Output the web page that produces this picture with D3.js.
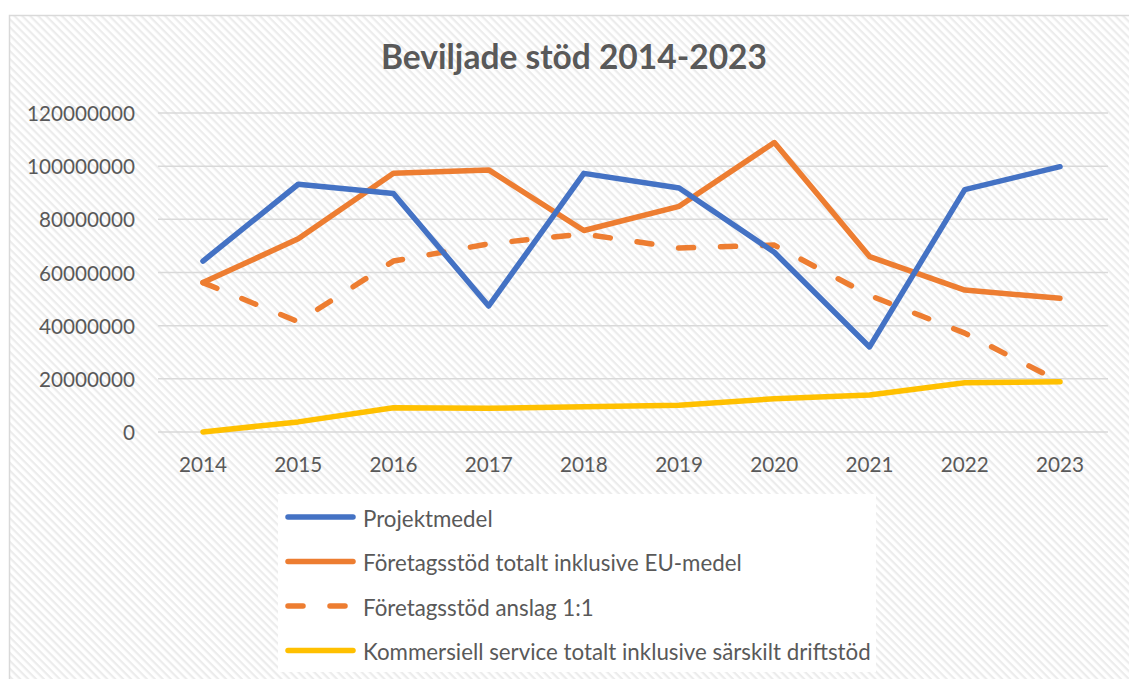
<!DOCTYPE html>
<html><head><meta charset="utf-8">
<script src="https://cdn.jsdelivr.net/npm/d3@7"></script>
<style>html,body{margin:0;padding:0;background:#fff;overflow:hidden}</style>
</head><body>
<svg id="c" width="1129" height="679"></svg>
<script>
const years = ["2014","2015","2016","2017","2018","2019","2020","2021","2022","2023"];
const projektmedel = [64.3e6, 93.2e6, 89.7e6, 47.4e6, 97.3e6, 91.8e6, 67.6e6, 32.0e6, 91.2e6, 99.8e6];
const foretagTotalt = [56.2e6, 72.7e6, 97.3e6, 98.6e6, 75.8e6, 84.9e6, 108.9e6, 66.0e6, 53.4e6, 50.3e6];
const foretagAnslag = [56.2e6, 41.5e6, 64.3e6, 70.8e6, 74.5e6, 69.2e6, 70.3e6, 51.4e6, 37.2e6, 18.9e6];
const kommersiell = [0, 3.8e6, 9.1e6, 8.9e6, 9.5e6, 10.1e6, 12.5e6, 13.9e6, 18.5e6, 18.9e6];
const yTicks = [0, 20000000, 40000000, 60000000, 80000000, 100000000, 120000000];
const seriesNames = ["Projektmedel","Företagsstöd totalt inklusive EU-medel","Företagsstöd anslag 1:1","Kommersiell service totalt inklusive särskilt driftstöd"];
const seriesColors = ["#4472C4","#ED7D31","#ED7D31","#FFC000"];
const seriesDash = [null,null,"15,27",null];
const titleText = "Beviljade stöd 2014-2023";

const FONT = "Lato, 'Open Sans', sans-serif";
const TXT = "#595959";
const svg = d3.select("#c");
const defs = svg.append("defs");
const pat = defs.append("pattern").attr("id","hatch").attr("patternUnits","userSpaceOnUse")
  .attr("width",5.6).attr("height",5.6).attr("patternTransform","rotate(45)");
pat.append("rect").attr("width",5.6).attr("height",5.6).attr("fill","#ffffff");
pat.append("rect").attr("width",5.6).attr("height",2.2).attr("fill","#ececec");

svg.append("rect").attr("width",1129).attr("height",679).attr("fill","#fff");
svg.append("rect").attr("x",9.5).attr("y",15.5).attr("width",1140).attr("height",700)
  .attr("fill","url(#hatch)").attr("stroke","#d9d9d9").attr("stroke-width",1.5);

function fit(sel, target){
  const n = sel.node();
  const w = n.getComputedTextLength();
  const fs = parseFloat(sel.attr("font-size"));
  return fs * target / w;
}

// title
const title = svg.append("text").attr("x",574).attr("y",69).attr("text-anchor","middle")
  .attr("font-family",FONT).attr("font-weight","bold").attr("font-size",30).attr("fill",TXT).text(titleText);
title.attr("font-size", fit(title,386));

const x = d3.scalePoint().domain(years).range([203,1060]);
const y = d3.scaleLinear().domain([0,120000000]).range([432,113]);

const g = svg.append("g");
g.selectAll("line.grid").data(yTicks).join("line").attr("class","grid")
  .attr("x1",158).attr("x2",1108).attr("y1",d=>y(d)).attr("y2",d=>y(d))
  .attr("stroke","#d9d9d9").attr("stroke-width",1.5);

// y labels
const yl = g.selectAll("text.yl").data(yTicks).join("text").attr("class","yl")
  .attr("x",135).attr("y",d=>y(d)).attr("text-anchor","end").attr("dominant-baseline","central")
  .attr("font-family",FONT).attr("font-size",20).attr("fill",TXT).text(d=>d3.format("d")(d));
const yfs = fit(yl.filter(d=>d===120000000), 108);
yl.attr("font-size", yfs);

const xl = g.selectAll("text.xl").data(years).join("text").attr("class","xl")
  .attr("x",d=>x(d)).attr("y",464).attr("text-anchor","middle").attr("dominant-baseline","central")
  .attr("font-family",FONT).attr("font-size",yfs).attr("fill",TXT).text(d=>d);

const allSeries = [projektmedel, foretagTotalt, foretagAnslag, kommersiell];
const line = d3.line().x((d,i)=>x(years[i])).y(d=>y(d));
const order = [3,2,1,0];
order.forEach(k=>{
  g.append("path").datum(allSeries[k]).attr("d",line).attr("fill","none")
    .attr("stroke",seriesColors[k]).attr("stroke-width",5.5)
    .attr("stroke-linejoin","round").attr("stroke-linecap","round")
    .attr("stroke-dasharray",seriesDash[k]);
});

// legend
const lg = svg.append("g");
lg.append("rect").attr("x",278).attr("y",494).attr("width",598).attr("height",178).attr("fill","#fff");
const ly = [517,561.5,606,650.5];
const items = lg.selectAll("g.it").data(seriesNames).join("g").attr("class","it");
items.append("line").attr("x1",288).attr("x2",353).attr("y1",(d,i)=>ly[i]).attr("y2",(d,i)=>ly[i])
  .attr("stroke",(d,i)=>seriesColors[i]).attr("stroke-width",5.5).attr("stroke-linecap","round")
  .attr("stroke-dasharray",(d,i)=>seriesDash[i]);
const lt = items.append("text").attr("x",363).attr("y",(d,i)=>ly[i]+1).attr("dominant-baseline","central")
  .attr("font-family",FONT).attr("font-size",20).attr("fill",TXT).text(d=>d);
const lfs = fit(lt.filter((d,i)=>i===3), 508);
lt.attr("font-size", lfs);
</script>
</body></html>
